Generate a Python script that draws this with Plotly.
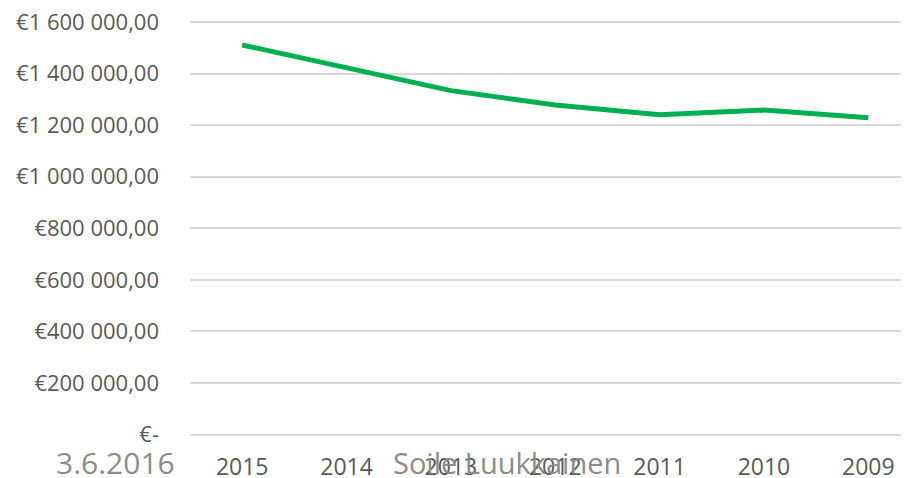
import plotly.graph_objects as go

years = ["2015", "2014", "2013", "2012", "2011", "2010", "2009"]
values = [1511000, 1424000, 1334000, 1278000, 1240000, 1259000, 1229000]
y_tick_vals = [0, 200000, 400000, 600000, 800000, 1000000, 1200000, 1400000, 1600000]
y_tick_text = ["€-", "€200 000,00", "€400 000,00", "€600 000,00", "€800 000,00",
               "€1 000 000,00", "€1 200 000,00", "€1 400 000,00", "€1 600 000,00"]

fig = go.Figure()
fig.add_trace(go.Scatter(
    x=years, y=values, mode="lines",
    line=dict(color="#00B050", width=5),
    hoverinfo="skip", showlegend=False,
))

font_family = "Open Sans, Noto Sans, sans-serif"
fig.update_layout(
    width=909, height=478,
    margin=dict(l=182, r=8, t=13, b=51),
    paper_bgcolor="white", plot_bgcolor="white",
    font=dict(family=font_family, color="#595959", size=20),
    xaxis=dict(type="category", range=[-0.5, 6.39], showgrid=False, zeroline=False,
               showline=False, ticks="", ticklabelstandoff=16, automargin=False,
               ticklabeloverflow="allow",
               tickfont=dict(size=23, color="#595959")),
    yaxis=dict(range=[-1500, 1604000], tickvals=y_tick_vals, ticktext=y_tick_text,
               showgrid=True, gridcolor="#d9d9d9", gridwidth=1.5,
               zeroline=True, zerolinecolor="#d9d9d9", zerolinewidth=1.5,
               showline=False, ticks="", ticklabelstandoff=30, automargin=False,
               ticklabeloverflow="allow",
               tickfont=dict(size=22, color="#595959")),
    annotations=[
        dict(text="3.6.2016", xref="paper", yref="paper", x=-0.1043, y=-0.0654,
             xanchor="center", yanchor="middle", showarrow=False,
             font=dict(size=30, color="#8c8c8c", family=font_family)),
        dict(text="Soile Luukkainen", xref="paper", yref="paper", x=0.4409, y=-0.0654,
             xanchor="center", yanchor="middle", showarrow=False,
             font=dict(size=29, color="#8c8c8c", family=font_family)),
    ],
)

fig.write_html("out.html")
